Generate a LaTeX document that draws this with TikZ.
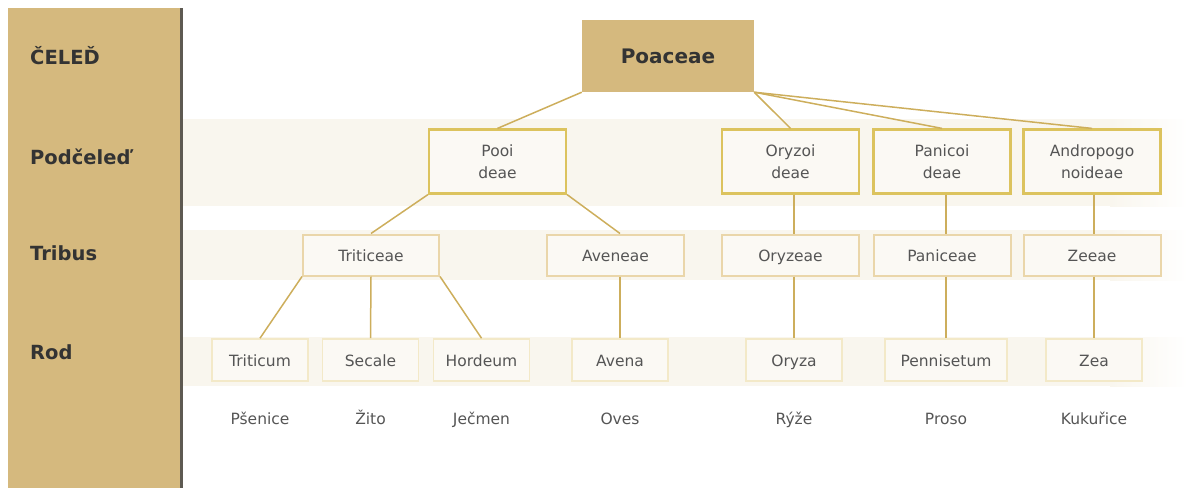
\documentclass[tikz,border=0pt]{standalone}
\usepackage{fontspec}
\setmainfont{DejaVu Sans}
\definecolor{tan}{HTML}{D5B97E}
\definecolor{edge}{HTML}{5E5A52}
\definecolor{band}{HTML}{F9F6EE}
\definecolor{boxfill}{HTML}{FBF9F4}
\definecolor{subborder}{HTML}{DCC35E}
\definecolor{tribborder}{HTML}{EAD6AA}
\definecolor{rodborder}{HTML}{F3E9C8}
\definecolor{conncol}{HTML}{CDAE5C}
\definecolor{labeltext}{HTML}{333333}
\definecolor{boxtext}{HTML}{555555}
\begin{document}
\begin{tikzpicture}[x=1pt,y=-1pt,
  rank/.style={anchor=base west, text=labeltext, font=\fontsize{19.5}{21}\selectfont\bfseries, inner sep=0pt},
  family/.style={fill=tan, minimum width=172pt, minimum height=72pt, text=labeltext,
    font=\fontsize{20}{22}\selectfont\bfseries, inner sep=0pt},
  subfam/.style={draw=subborder, line width=2.2pt, fill=boxfill, minimum width=137pt, minimum height=64pt,
    text=boxtext, align=center, font=\fontsize{15.5}{22}\selectfont, inner sep=0pt},
  tribe/.style={draw=tribborder, line width=2pt, fill=boxfill, minimum width=137pt, minimum height=41pt,
    text=boxtext, font=\fontsize{15.5}{17}\selectfont, inner sep=0pt, text height=13.5pt, text depth=1.5pt},
  genus/.style={draw=rodborder, line width=1.6pt, fill=boxfill, minimum width=#1, minimum height=42pt,
    text=boxtext, font=\fontsize{15.5}{17}\selectfont, inner sep=0pt, text height=13.5pt, text depth=1.5pt},
  genus/.default=96pt,
  common/.style={anchor=base, text=boxtext, font=\fontsize{15.5}{17}\selectfont, inner sep=0pt},
  conn/.style={draw=conncol, line width=1.5pt}]
\useasboundingbox (0,0) rectangle (1188,488);

% horizontal rank bands
\foreach \ya/\yb in {119/206, 230/280, 337/386}{
  \fill[band] (183,\ya) rectangle (1110,\yb);
  \shade[left color=band, right color=white] (1110,\ya) rectangle (1188,\yb);
}

% left rank column
\fill[tan] (8,8) rectangle (181,488);
\draw[edge, line width=2.6pt] (181.5,8) -- (181.5,488);
\node[rank] (lfam)   at (30,64)  {ČELEĎ};
\node[rank] (lsub)   at (30,164) {Podčeleď};
\node[rank] (ltribe) at (30,260) {Tribus};
\node[rank] (lgenus) at (30,359) {Rod};

% family
\node[family] (poaceae) at (668,56) {Poaceae};

% subfamilies
\node[subfam] (pooi)   at (497.5,161.5) {Pooi\\deae};
\node[subfam] (oryzoi) at (790.5,161.5) {Oryzoi\\deae};
\node[subfam] (panic)  at (942,161.5)   {Panicoi\\deae};
\node[subfam] (andro)  at (1092,161.5)  {Andropogo\\noideae};

% tribes
\node[tribe, minimum width=136pt] (triticeae) at (371,255) {Triticeae};
\node[tribe] (aveneae)   at (615.5,255) {Aveneae};
\node[tribe] (oryzeae)   at (790.5,255) {Oryzeae};
\node[tribe] (paniceae)  at (942,255)   {Paniceae};
\node[tribe] (zeeae)     at (1092,255)  {Zeeae};

% genera
\node[genus] (triticum)   at (260,360)   {Triticum};
\node[genus] (secale)     at (370.5,360) {Secale};
\node[genus] (hordeum)    at (481.5,360) {Hordeum};
\node[genus] (avena)      at (620,360)   {Avena};
\node[genus] (oryza)      at (794,360)   {Oryza};
\node[genus=122pt] (pennisetum) at (946,360) {Pennisetum};
\node[genus] (zea)        at (1094,360)  {Zea};

% common names
\node[common] (psenice)  at (260,424)   {Pšenice};
\node[common] (zito)     at (370.5,424) {Žito};
\node[common] (jecmen)   at (481.5,424) {Ječmen};
\node[common] (oves)     at (620,424)   {Oves};
\node[common] (ryze)     at (794,424)   {Rýže};
\node[common] (proso)    at (946,424)   {Proso};
\node[common] (kukurice) at (1094,424)  {Kukuřice};

% family to subfamilies
\draw[conn] (poaceae.south west) -- (pooi.north);
\draw[conn] (poaceae.south east) -- (oryzoi.north);
\draw[conn] (poaceae.south east) -- (panic.north);
\draw[conn] (poaceae.south east) -- (andro.north);

% subfamilies to tribes
\draw[conn] (pooi.south west) -- (triticeae.north);
\draw[conn] (pooi.south east) -- (avena.north |- aveneae.north);
\draw[conn] (oryza.north |- oryzoi.south) -- (oryza.north |- oryzeae.north);
\draw[conn] (pennisetum.north |- panic.south) -- (pennisetum.north |- paniceae.north);
\draw[conn] (zea.north |- andro.south) -- (zea.north |- zeeae.north);

% tribes to genera
\draw[conn] (triticeae.south west) -- (triticum.north);
\draw[conn] (triticeae.south) -- (secale.north);
\draw[conn] (triticeae.south east) -- (hordeum.north);
\draw[conn] (avena.north |- aveneae.south) -- (avena.north);
\draw[conn] (oryza.north |- oryzeae.south) -- (oryza.north);
\draw[conn] (pennisetum.north |- paniceae.south) -- (pennisetum.north);
\draw[conn] (zea.north |- zeeae.south) -- (zea.north);
\end{tikzpicture}
\end{document}
